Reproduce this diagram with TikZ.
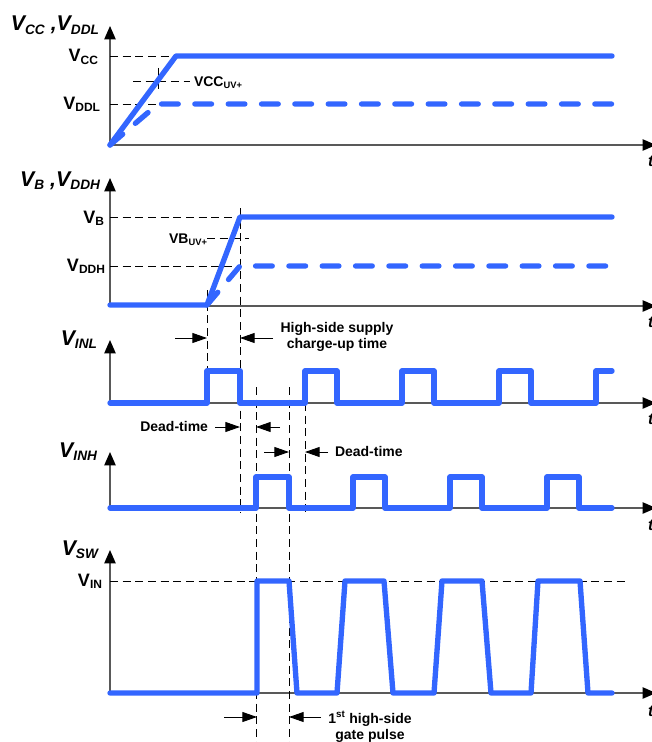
\documentclass[tikz,border=0pt]{standalone}
\usepackage{fontspec}
\setmainfont{Liberation Sans}
\usetikzlibrary{arrows.meta}
\definecolor{wave}{RGB}{51,102,255}
\newcommand\tfont{\fontsize{16}{16}\selectfont\bfseries\itshape}
\newcommand\tsub[1]{\raisebox{-2.4pt}{\fontsize{10.25}{10}\selectfont #1}}
\newcommand\lfont{\fontsize{13.5}{14}\selectfont\bfseries}
\newcommand\lsub[1]{\raisebox{-2.2pt}{\fontsize{9}{9}\selectfont #1}}
\newcommand\sfont{\fontsize{10.5}{12}\selectfont\bfseries}
\newcommand\ssub[1]{\raisebox{-1.8pt}{\fontsize{7}{7}\selectfont #1}}
\tikzset{
  wavel/.style={line width=4pt, draw=wave, line cap=round, line join=round},
  wavedash/.style={wavel, dash pattern=on 12.5pt off 12.5pt},
  axisl/.style={draw=black!65, line width=0.9pt, -{Triangle[length=10pt,width=8.5pt,color=black]}},
  guide/.style={draw=black, line width=0.7pt, dash pattern=on 6pt off 3.5pt},
  dimar/.style={draw=black, line width=0.7pt, -{Triangle[length=11pt,width=7.5pt]}},
  txt/.style={inner sep=0pt, outer sep=0pt},
}
\begin{document}
\begin{tikzpicture}[x=0.75pt,y=-0.75pt]
\useasboundingbox (0,0) rectangle (652,742);
\clip (0,0) rectangle (652,742);
% axes coordinates
\coordinate (o1) at (110,145); \coordinate (y1) at (110,26); \coordinate (x1) at (656,145);
\coordinate (o2) at (110,306); \coordinate (y2) at (110,178); \coordinate (x2) at (656,306);
\coordinate (o3) at (110,403); \coordinate (y3) at (110,340); \coordinate (x3) at (656,403);
\coordinate (o4) at (110,508); \coordinate (y4) at (110,452); \coordinate (x4) at (656,508);
\coordinate (o5) at (110,693); \coordinate (y5) at (110,550); \coordinate (x5) at (656,693);
\foreach \i in {1,...,5}{\draw[axisl] (o\i) -- (y\i); \draw[axisl] (o\i) -- (x\i);}
% time labels
\foreach \i/\yy in {1/166,2/327,3/424,4/530,5/716}{
  \node[txt, anchor=base west, font=\fontsize{12}{12}\selectfont\bfseries\itshape] (t\i) at (648,\yy) {t};}
% titles
\node[txt, anchor=base east] (ttl1) at (99,31) {\tfont V\tsub{CC} ,V\tsub{DDL}};
\node[txt, anchor=base east] (ttl2) at (100,186) {\tfont V\tsub{B} ,V\tsub{DDH}};
\node[txt, anchor=base east] (ttl3) at (97,345) {\tfont V\tsub{INL}};
\node[txt, anchor=base east] (ttl4) at (97,457) {\tfont V\tsub{INH}};
\node[txt, anchor=base east] (ttl5) at (98,555) {\tfont V\tsub{SW}};
% level labels
\node[txt, anchor=base east] (lvcc) at (98,62) {\lfont V\lsub{CC}};
\node[txt, anchor=base east] (lvddl) at (100,109) {\lfont V\lsub{DDL}};
\node[txt, anchor=base east] (lvb) at (104,223) {\lfont V\lsub{B}};
\node[txt, anchor=base east] (lvddh) at (105,271) {\lfont V\lsub{DDH}};
\node[txt, anchor=base east] (lvin) at (102,586) {\lfont V\lsub{IN}};
\node[txt, anchor=base west] (lvccuv) at (194,86) {\sfont VCC\ssub{UV+}};
\node[txt, anchor=base east] (lvbuv) at (207,243) {\sfont VB\ssub{UV+}};
% horizontal guides
\draw[guide] (110,56) -- (176,56);
\draw[guide] (110,104) -- (165,104);
\draw[guide] (133,81) -- (190,81);
\draw[guide] (158,68) -- (158,93);
\draw[guide] (110,217) -- (240,217);
\draw[guide] (110,266) -- (240,266);
\draw[guide] (207,238) -- (249,238);
\draw[guide] (110,581) -- (628,581);
% vertical guides
\coordinate (g1t) at (207,290); \coordinate (g1b) at (207,371);
\coordinate (g2t) at (240,208); \coordinate (g2b) at (240,513);
\coordinate (g3t) at (256,387); \coordinate (g3b) at (256,745);
\coordinate (g4t) at (289,387); \coordinate (g4b) at (289,745);
\coordinate (g5t) at (305,403); \coordinate (g5b) at (305,517);
\foreach \i in {1,...,5}{\draw[guide] (g\i t) -- (g\i b);}
% waveforms
\draw[wavel] (110,145) -- (176,56) -- (612,56);
\draw[wavedash] (110,145) -- (158,104) -- (613,104);
\draw[wavel] (110,305) -- (207,305) -- (240,217) -- (612,217);
\draw[wavedash] (207,305) -- (240,266) -- (612,266);
\draw[wavel] (110,403) -- (207,403) -- (207,371) -- (240,371) -- (240,403)
  -- (305,403) -- (305,371) -- (337,371) -- (337,403)
  -- (402,403) -- (402,371) -- (434,371) -- (434,403)
  -- (499,403) -- (499,371) -- (531,371) -- (531,403)
  -- (596,403) -- (596,371) -- (612,371);
\draw[wavel] (110,508) -- (256,508) -- (256,477) -- (289,477) -- (289,508)
  -- (353,508) -- (353,477) -- (385,477) -- (385,508)
  -- (450,508) -- (450,477) -- (482,477) -- (482,508)
  -- (547,508) -- (547,477) -- (579,477) -- (579,508) -- (612,508);
\draw[wavel] (110,693) -- (257,693) -- (257,581) -- (289,581) -- (297,693)
  -- (337,693) -- (345,581) -- (384,581) -- (393,693)
  -- (434,693) -- (442,581) -- (482,581) -- (491,693)
  -- (531,693) -- (538,581) -- (580,581) -- (588,693) -- (612,693);
% dimension arrows
\coordinate (h1) at (175,338); \coordinate (h1e) at (207,338);
\coordinate (h2) at (273,338); \coordinate (h2e) at (240,338);
\draw[dimar] (h1) -- (h1e); \draw[dimar] (h2) -- (h2e);
\node[txt, anchor=base] (hs1) at (337,332) {\sfont High-side supply};
\node[txt, anchor=base] (hs2) at (337,348) {\sfont charge-up time};
\coordinate (d1) at (215,427); \coordinate (d1e) at (240,427);
\coordinate (d2) at (280,427); \coordinate (d2e) at (256,427);
\draw[dimar] (d1) -- (d1e); \draw[dimar] (d2) -- (d2e);
\node[txt, anchor=base east] (dt1) at (208,431) {\sfont Dead-time};
\coordinate (d3) at (264,452); \coordinate (d3e) at (289,452);
\coordinate (d4) at (328,452); \coordinate (d4e) at (305,452);
\draw[dimar] (d3) -- (d3e); \draw[dimar] (d4) -- (d4e);
\node[txt, anchor=base west] (dt2) at (335,456) {\sfont Dead-time};
\coordinate (p1) at (224,717); \coordinate (p1e) at (257,717);
\coordinate (p2) at (321,717); \coordinate (p2e) at (289,717);
\draw[dimar] (p1) -- (p1e); \draw[dimar] (p2) -- (p2e);
\node[txt, anchor=base] (gp1) at (370,723) {\sfont 1\textsuperscript{st} high-side};
\node[txt, anchor=base] (gp2) at (370,739) {\sfont gate pulse};
\end{tikzpicture}
\end{document}
